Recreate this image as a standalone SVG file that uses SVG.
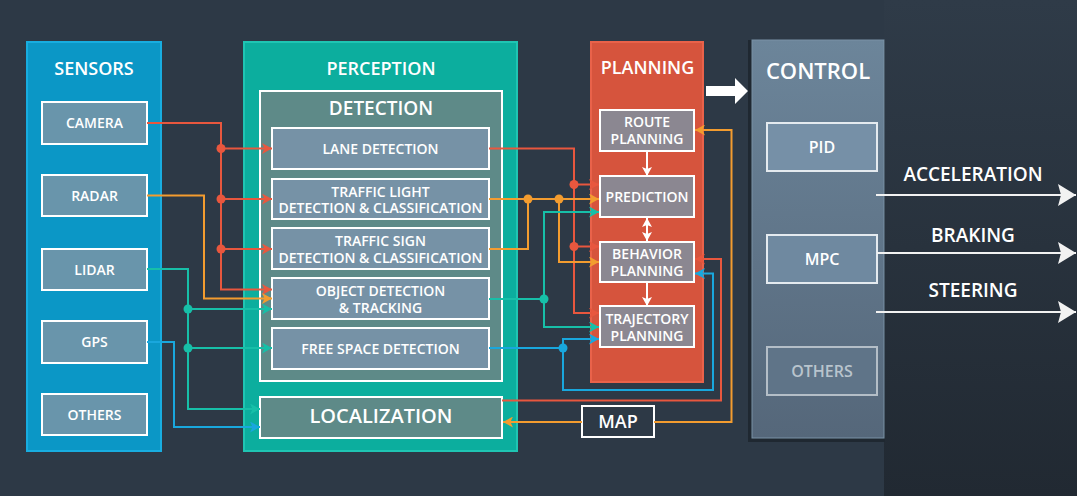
<svg xmlns="http://www.w3.org/2000/svg" width="1077" height="496" viewBox="0 0 1077 496">
<style>
text{font-family:"Open Sans","Liberation Sans",sans-serif;font-weight:600;fill:#ffffff;text-anchor:middle}
.t18{font-size:18px}
.t14{font-size:14px}
.t16{font-size:16px}
.box{stroke:#ffffff;stroke-width:2}
.sb{fill:#6995ab}
.db{fill:#7692a6}
.pb{fill:#8b8791}
.ln{fill:none;stroke-width:2}
.r{stroke:#e8573e}
.o{stroke:#f39c2f}
.g{stroke:#17bfa8}
.b{stroke:#19a7dd}
.w{stroke:#ffffff}
</style>
<defs>
<linearGradient id="rp" x1="0" y1="0" x2="0" y2="1">
<stop offset="0" stop-color="#2f3b48"/>
<stop offset="1" stop-color="#212932"/>
</linearGradient>
<linearGradient id="cg" x1="0" y1="0" x2="0" y2="1">
<stop offset="0" stop-color="#6c859a"/>
<stop offset="1" stop-color="#55677a"/>
</linearGradient>
<marker id="ar" markerUnits="userSpaceOnUse" markerWidth="10" markerHeight="11" refX="10" refY="5.5" orient="auto"><path d="M0,0 L10,5.5 L0,11 L2.5,5.5 Z" fill="#e8573e"/></marker>
<marker id="ao" markerUnits="userSpaceOnUse" markerWidth="10" markerHeight="11" refX="10" refY="5.5" orient="auto"><path d="M0,0 L10,5.5 L0,11 L2.5,5.5 Z" fill="#f39c2f"/></marker>
<marker id="ag" markerUnits="userSpaceOnUse" markerWidth="10" markerHeight="11" refX="10" refY="5.5" orient="auto"><path d="M0,0 L10,5.5 L0,11 L2.5,5.5 Z" fill="#17bfa8"/></marker>
<marker id="ab" markerUnits="userSpaceOnUse" markerWidth="10" markerHeight="11" refX="10" refY="5.5" orient="auto"><path d="M0,0 L10,5.5 L0,11 L2.5,5.5 Z" fill="#19a7dd"/></marker>
<marker id="aw" markerUnits="userSpaceOnUse" markerWidth="9" markerHeight="10" refX="9" refY="5" orient="auto-start-reverse"><path d="M0,0 L9,5 L0,10 L2,5 Z" fill="#ffffff"/></marker>
<marker id="awb" markerUnits="userSpaceOnUse" markerWidth="18" markerHeight="22" refX="18" refY="11" orient="auto"><path d="M0,0 L18,11 L0,22 L3,11 Z" fill="#f2f2f2"/></marker>
</defs>
<rect x="0" y="0" width="1077" height="496" fill="#2d3946"/>
<rect x="884" y="0" width="193" height="496" fill="url(#rp)"/>

<g id="sensors">
<rect x="27" y="42" width="134" height="409" fill="#0b97c6" stroke="#18ade0" stroke-width="2"/>
<text class="t18" x="94" y="75">SENSORS</text>
</g>
<g id="camera"><rect class="box sb" x="42" y="102" width="105" height="42"/><text class="t14" x="94.5" y="128">CAMERA</text></g>
<g id="radar"><rect class="box sb" x="42" y="175" width="105" height="41"/><text class="t14" x="94.5" y="200.5">RADAR</text></g>
<g id="lidar"><rect class="box sb" x="42" y="249" width="105" height="41"/><text class="t14" x="94.5" y="274.5">LIDAR</text></g>
<g id="gps"><rect class="box sb" x="42" y="321" width="105" height="42"/><text class="t14" x="94.5" y="347">GPS</text></g>
<g id="sensor-others"><rect class="box sb" x="42" y="394" width="105" height="41"/><text class="t14" x="94.5" y="419.5">OTHERS</text></g>

<g id="perception">
<rect x="244" y="42" width="273" height="409" fill="#0cae9e" stroke="#1fc5b3" stroke-width="2"/>
<text class="t18" x="381" y="75">PERCEPTION</text>
</g>
<g id="detection">
<rect class="box" x="260" y="91" width="242" height="290" fill="#5e8a88"/>
<text x="381" y="115" style="font-size:19px">DETECTION</text>
</g>
<g id="lane-detection"><rect class="box db" x="272" y="128" width="217" height="41"/><text class="t14" x="380.5" y="154">LANE DETECTION</text></g>
<g id="traffic-light"><rect class="box db" x="272" y="179" width="217" height="40"/><text class="t14"><tspan x="380.5" y="196.5">TRAFFIC LIGHT</tspan><tspan x="380.5" y="213">DETECTION &amp; CLASSIFICATION</tspan></text></g>
<g id="traffic-sign"><rect class="box db" x="272" y="228" width="217" height="41"/><text class="t14"><tspan x="380.5" y="246">TRAFFIC SIGN</tspan><tspan x="380.5" y="262.5">DETECTION &amp; CLASSIFICATION</tspan></text></g>
<g id="object-detection"><rect class="box db" x="272" y="278" width="217" height="41"/><text class="t14"><tspan x="380.5" y="296">OBJECT DETECTION</tspan><tspan x="380.5" y="312.5">&amp; TRACKING</tspan></text></g>
<g id="free-space"><rect class="box db" x="272" y="328" width="217" height="41"/><text class="t14" x="380.5" y="353.5">FREE SPACE DETECTION</text></g>
<g id="localization"><rect class="box" x="260" y="397" width="242" height="41" fill="#5e8a88"/><text x="381" y="423" style="font-size:20px">LOCALIZATION</text></g>

<g id="planning">
<rect x="591" y="42" width="112" height="340" fill="#d6543d" stroke="#e9624a" stroke-width="2"/>
<text class="t18" x="647.5" y="74">PLANNING</text>
</g>
<g id="route-planning"><rect class="box pb" x="600" y="110" width="94" height="41"/><text class="t14"><tspan x="647" y="127">ROUTE</tspan><tspan x="647" y="143.5">PLANNING</tspan></text></g>
<g id="prediction"><rect class="box pb" x="600" y="176" width="94" height="41"/><text class="t14" x="647" y="201.5">PREDICTION</text></g>
<g id="behavior-planning"><rect class="box pb" x="600" y="242" width="94" height="40"/><text class="t14"><tspan x="647" y="259">BEHAVIOR</tspan><tspan x="647" y="275.5">PLANNING</tspan></text></g>
<g id="trajectory-planning"><rect class="box pb" x="600" y="306" width="94" height="41"/><text class="t14"><tspan x="647" y="324">TRAJECTORY</tspan><tspan x="647" y="340.5">PLANNING</tspan></text></g>

<g id="map"><rect class="box" x="582" y="406" width="72" height="31" fill="#2d3946"/><text x="618" y="428" style="font-size:18px">MAP</text></g>

<g id="control">
<rect x="748" y="40" width="137" height="402" fill="#1f2831"/>
<rect x="752" y="40" width="132" height="398" fill="url(#cg)" stroke="#7a92a6" stroke-width="1"/>
<text x="818" y="79" style="font-size:22px">CONTROL</text>
</g>
<g id="pid"><rect x="767" y="123" width="110" height="48" fill="#7690a7" stroke="#e4eaef" stroke-width="2"/><text class="t16" x="822" y="152.5">PID</text></g>
<g id="mpc"><rect x="767" y="235" width="110" height="48" fill="#6f89a0" stroke="#e4eaef" stroke-width="2"/><text class="t16" x="822" y="264.5">MPC</text></g>
<g id="control-others"><rect x="767" y="347" width="110" height="48" fill="#5f7488" stroke="#b4bec7" stroke-width="2"/><text class="t16" x="822" y="376.5" style="fill:#b9c4cd">OTHERS</text></g>

<g id="connectors">
<path class="ln r" d="M147,123 H221 V289.5 H272" marker-end="url(#ar)"/>
<path class="ln r" d="M221,148.5 H272" marker-end="url(#ar)"/>
<path class="ln r" d="M221,199 H272" marker-end="url(#ar)"/>
<path class="ln r" d="M221,249 H272" marker-end="url(#ar)"/>
<path class="ln o" d="M147,195.5 H204 V298.5 H272" marker-end="url(#ao)"/>
<path class="ln g" d="M147,269 H188 V409 H260" marker-end="url(#ag)"/>
<path class="ln g" d="M188,309 H272" marker-end="url(#ag)"/>
<path class="ln g" d="M188,348 H272" marker-end="url(#ag)"/>
<path class="ln b" d="M147,342 H174 V427 H260" marker-end="url(#ab)"/>
<path class="ln r" d="M489,148.5 H574 V313 H599" marker-end="url(#ar)"/>
<path class="ln r" d="M574,184.5 H599" marker-end="url(#ar)"/>
<path class="ln r" d="M574,246.5 H599" marker-end="url(#ar)"/>
<path class="ln o" d="M489,199 H599" marker-end="url(#ao)"/>
<path class="ln o" d="M489,249 H528 V199"/>
<path class="ln o" d="M559,199 V262 H599" marker-end="url(#ao)"/>
<path class="ln g" d="M489,299 H544"/>
<path class="ln g" d="M544,299 V212 H599" marker-end="url(#ag)"/>
<path class="ln g" d="M544,299 V327 H599" marker-end="url(#ag)"/>
<path class="ln b" d="M489,348 H563"/>
<path class="ln b" d="M563,348 V339 H599" marker-end="url(#ab)"/>
<path class="ln b" d="M563,348 V390 H713 V273.5 H695" marker-end="url(#ab)"/>
<path class="ln r" d="M502,400.5 H721 V259 H695" marker-end="url(#ar)"/>
<path class="ln o" d="M654,422 H731.5 V130 H695" marker-end="url(#ao)"/>
<path class="ln o" d="M582,422 H503" marker-end="url(#ao)"/>
<g fill="#e8573e"><circle cx="221" cy="148.5" r="4.5"/><circle cx="221" cy="199" r="4.5"/><circle cx="221" cy="249" r="4.5"/><circle cx="574" cy="184.5" r="4.5"/><circle cx="574" cy="246.5" r="4.5"/></g>
<g fill="#f39c2f"><circle cx="528" cy="199" r="4.5"/><circle cx="559" cy="199" r="4.5"/></g>
<g fill="#17bfa8"><circle cx="188" cy="309" r="4.5"/><circle cx="188" cy="348" r="4.5"/><circle cx="544" cy="299" r="4.5"/></g>
<g fill="#19a7dd"><circle cx="563" cy="348" r="4.5"/></g>
<path class="ln w" d="M647,151 V176" marker-end="url(#aw)"/>
<path class="ln w" d="M647,218 V241" marker-start="url(#aw)" marker-end="url(#aw)"/>
<path class="ln w" d="M647,283 V306" marker-end="url(#aw)"/>
<polygon points="706,86 735,86 735,78 748,91 735,104 735,96 706,96" fill="#ffffff"/>
<path class="ln" d="M876,195 H1076" stroke="#f2f2f2" stroke-width="3" marker-end="url(#awb)"/>
<path class="ln" d="M877,253 H1076" stroke="#f2f2f2" stroke-width="3" marker-end="url(#awb)"/>
<path class="ln" d="M876,312 H1076" stroke="#f2f2f2" stroke-width="3" marker-end="url(#awb)"/>
</g>
<g id="output-labels">
<text x="973" y="181" style="font-size:19px">ACCELERATION</text>
<text x="973" y="242" style="font-size:19px">BRAKING</text>
<text x="973" y="297" style="font-size:19px">STEERING</text>
</g>
</svg>
